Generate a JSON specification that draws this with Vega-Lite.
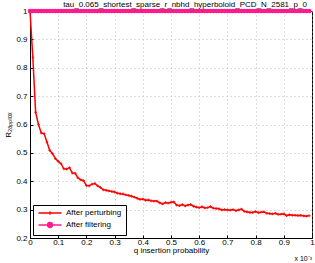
{
  "$schema": "https://vega.github.io/schema/vega-lite/v6.json",
  "width": 282,
  "height": 227,
  "autosize": "none",
  "padding": {"left": 30, "top": 11, "right": 3, "bottom": 25},
  "background": "white",
  "config": {
    "font": "Liberation Sans",
    "view": {"stroke": "black", "strokeWidth": 1},
    "axis": {
      "labelFont": "Liberation Sans", "labelFontSize": 8, "labelColor": "black", "labelOverlap": false, "labelBound": false,
      "titleFont": "Liberation Sans", "titleFontSize": 8, "titleFontWeight": "normal", "titleColor": "black",
      "domainColor": "black", "tickColor": "black", "tickSize": -3,
      "gridColor": "#a8a8a8", "gridDash": [1, 3], "gridWidth": 0.8
    }
  },
  "title": {
    "text": "tau_0.065_shortest_sparse_r_nbhd_hyperboloid_PCD_N_2581_p_0",
    "fontSize": 8, "fontWeight": "normal", "font": "Liberation Sans", "color": "black",
    "offset": -2, "dx": 14
  },
  "datasets": {
    "curves": [
      {"q": 0, "r": 1.0, "s": "After perturbing"},
      {"q": 0.01, "r": 0.837, "s": "After perturbing"},
      {"q": 0.02, "r": 0.643, "s": "After perturbing"},
      {"q": 0.03, "r": 0.600, "s": "After perturbing"},
      {"q": 0.04, "r": 0.570, "s": "After perturbing"},
      {"q": 0.05, "r": 0.568, "s": "After perturbing"},
      {"q": 0.06, "r": 0.538, "s": "After perturbing"},
      {"q": 0.07, "r": 0.509, "s": "After perturbing"},
      {"q": 0.08, "r": 0.497, "s": "After perturbing"},
      {"q": 0.09, "r": 0.480, "s": "After perturbing"},
      {"q": 0.10, "r": 0.470, "s": "After perturbing"},
      {"q": 0.11, "r": 0.462, "s": "After perturbing"},
      {"q": 0.12, "r": 0.444, "s": "After perturbing"},
      {"q": 0.13, "r": 0.443, "s": "After perturbing"},
      {"q": 0.14, "r": 0.448, "s": "After perturbing"},
      {"q": 0.15, "r": 0.429, "s": "After perturbing"},
      {"q": 0.16, "r": 0.428, "s": "After perturbing"},
      {"q": 0.17, "r": 0.412, "s": "After perturbing"},
      {"q": 0.18, "r": 0.405, "s": "After perturbing"},
      {"q": 0.19, "r": 0.402, "s": "After perturbing"},
      {"q": 0.20, "r": 0.385, "s": "After perturbing"},
      {"q": 0.21, "r": 0.384, "s": "After perturbing"},
      {"q": 0.22, "r": 0.390, "s": "After perturbing"},
      {"q": 0.23, "r": 0.392, "s": "After perturbing"},
      {"q": 0.24, "r": 0.384, "s": "After perturbing"},
      {"q": 0.25, "r": 0.378, "s": "After perturbing"},
      {"q": 0.26, "r": 0.370, "s": "After perturbing"},
      {"q": 0.27, "r": 0.368, "s": "After perturbing"},
      {"q": 0.28, "r": 0.366, "s": "After perturbing"},
      {"q": 0.29, "r": 0.364, "s": "After perturbing"},
      {"q": 0.30, "r": 0.362, "s": "After perturbing"},
      {"q": 0.31, "r": 0.358, "s": "After perturbing"},
      {"q": 0.32, "r": 0.356, "s": "After perturbing"},
      {"q": 0.33, "r": 0.355, "s": "After perturbing"},
      {"q": 0.34, "r": 0.352, "s": "After perturbing"},
      {"q": 0.35, "r": 0.350, "s": "After perturbing"},
      {"q": 0.36, "r": 0.347, "s": "After perturbing"},
      {"q": 0.37, "r": 0.344, "s": "After perturbing"},
      {"q": 0.38, "r": 0.340, "s": "After perturbing"},
      {"q": 0.39, "r": 0.336, "s": "After perturbing"},
      {"q": 0.40, "r": 0.337, "s": "After perturbing"},
      {"q": 0.41, "r": 0.333, "s": "After perturbing"},
      {"q": 0.42, "r": 0.334, "s": "After perturbing"},
      {"q": 0.43, "r": 0.331, "s": "After perturbing"},
      {"q": 0.44, "r": 0.330, "s": "After perturbing"},
      {"q": 0.45, "r": 0.330, "s": "After perturbing"},
      {"q": 0.46, "r": 0.324, "s": "After perturbing"},
      {"q": 0.47, "r": 0.320, "s": "After perturbing"},
      {"q": 0.48, "r": 0.325, "s": "After perturbing"},
      {"q": 0.49, "r": 0.323, "s": "After perturbing"},
      {"q": 0.50, "r": 0.326, "s": "After perturbing"},
      {"q": 0.51, "r": 0.327, "s": "After perturbing"},
      {"q": 0.52, "r": 0.316, "s": "After perturbing"},
      {"q": 0.53, "r": 0.314, "s": "After perturbing"},
      {"q": 0.54, "r": 0.318, "s": "After perturbing"},
      {"q": 0.55, "r": 0.313, "s": "After perturbing"},
      {"q": 0.56, "r": 0.316, "s": "After perturbing"},
      {"q": 0.57, "r": 0.318, "s": "After perturbing"},
      {"q": 0.58, "r": 0.312, "s": "After perturbing"},
      {"q": 0.59, "r": 0.309, "s": "After perturbing"},
      {"q": 0.60, "r": 0.307, "s": "After perturbing"},
      {"q": 0.61, "r": 0.310, "s": "After perturbing"},
      {"q": 0.62, "r": 0.306, "s": "After perturbing"},
      {"q": 0.63, "r": 0.307, "s": "After perturbing"},
      {"q": 0.64, "r": 0.311, "s": "After perturbing"},
      {"q": 0.65, "r": 0.305, "s": "After perturbing"},
      {"q": 0.66, "r": 0.304, "s": "After perturbing"},
      {"q": 0.67, "r": 0.303, "s": "After perturbing"},
      {"q": 0.68, "r": 0.299, "s": "After perturbing"},
      {"q": 0.69, "r": 0.300, "s": "After perturbing"},
      {"q": 0.70, "r": 0.299, "s": "After perturbing"},
      {"q": 0.71, "r": 0.298, "s": "After perturbing"},
      {"q": 0.72, "r": 0.300, "s": "After perturbing"},
      {"q": 0.73, "r": 0.296, "s": "After perturbing"},
      {"q": 0.74, "r": 0.299, "s": "After perturbing"},
      {"q": 0.75, "r": 0.302, "s": "After perturbing"},
      {"q": 0.76, "r": 0.294, "s": "After perturbing"},
      {"q": 0.77, "r": 0.292, "s": "After perturbing"},
      {"q": 0.78, "r": 0.290, "s": "After perturbing"},
      {"q": 0.79, "r": 0.290, "s": "After perturbing"},
      {"q": 0.80, "r": 0.293, "s": "After perturbing"},
      {"q": 0.81, "r": 0.289, "s": "After perturbing"},
      {"q": 0.82, "r": 0.291, "s": "After perturbing"},
      {"q": 0.83, "r": 0.292, "s": "After perturbing"},
      {"q": 0.84, "r": 0.287, "s": "After perturbing"},
      {"q": 0.85, "r": 0.286, "s": "After perturbing"},
      {"q": 0.86, "r": 0.285, "s": "After perturbing"},
      {"q": 0.87, "r": 0.287, "s": "After perturbing"},
      {"q": 0.88, "r": 0.283, "s": "After perturbing"},
      {"q": 0.89, "r": 0.284, "s": "After perturbing"},
      {"q": 0.90, "r": 0.285, "s": "After perturbing"},
      {"q": 0.91, "r": 0.279, "s": "After perturbing"},
      {"q": 0.92, "r": 0.282, "s": "After perturbing"},
      {"q": 0.93, "r": 0.280, "s": "After perturbing"},
      {"q": 0.94, "r": 0.280, "s": "After perturbing"},
      {"q": 0.95, "r": 0.279, "s": "After perturbing"},
      {"q": 0.96, "r": 0.280, "s": "After perturbing"},
      {"q": 0.97, "r": 0.278, "s": "After perturbing"},
      {"q": 0.98, "r": 0.277, "s": "After perturbing"},
      {"q": 0.99, "r": 0.279, "s": "After perturbing"},
      {"q": 0, "r": 1, "s": "After filtering"},
      {"q": 0.01, "r": 1, "s": "After filtering"},
      {"q": 0.02, "r": 1, "s": "After filtering"},
      {"q": 0.03, "r": 1, "s": "After filtering"},
      {"q": 0.04, "r": 1, "s": "After filtering"},
      {"q": 0.05, "r": 1, "s": "After filtering"},
      {"q": 0.06, "r": 1, "s": "After filtering"},
      {"q": 0.07, "r": 1, "s": "After filtering"},
      {"q": 0.08, "r": 1, "s": "After filtering"},
      {"q": 0.09, "r": 1, "s": "After filtering"},
      {"q": 0.10, "r": 1, "s": "After filtering"},
      {"q": 0.11, "r": 1, "s": "After filtering"},
      {"q": 0.12, "r": 1, "s": "After filtering"},
      {"q": 0.13, "r": 1, "s": "After filtering"},
      {"q": 0.14, "r": 1, "s": "After filtering"},
      {"q": 0.15, "r": 1, "s": "After filtering"},
      {"q": 0.16, "r": 1, "s": "After filtering"},
      {"q": 0.17, "r": 1, "s": "After filtering"},
      {"q": 0.18, "r": 1, "s": "After filtering"},
      {"q": 0.19, "r": 1, "s": "After filtering"},
      {"q": 0.20, "r": 1, "s": "After filtering"},
      {"q": 0.21, "r": 1, "s": "After filtering"},
      {"q": 0.22, "r": 1, "s": "After filtering"},
      {"q": 0.23, "r": 1, "s": "After filtering"},
      {"q": 0.24, "r": 1, "s": "After filtering"},
      {"q": 0.25, "r": 1, "s": "After filtering"},
      {"q": 0.26, "r": 1, "s": "After filtering"},
      {"q": 0.27, "r": 1, "s": "After filtering"},
      {"q": 0.28, "r": 1, "s": "After filtering"},
      {"q": 0.29, "r": 1, "s": "After filtering"},
      {"q": 0.30, "r": 1, "s": "After filtering"},
      {"q": 0.31, "r": 1, "s": "After filtering"},
      {"q": 0.32, "r": 1, "s": "After filtering"},
      {"q": 0.33, "r": 1, "s": "After filtering"},
      {"q": 0.34, "r": 1, "s": "After filtering"},
      {"q": 0.35, "r": 1, "s": "After filtering"},
      {"q": 0.36, "r": 1, "s": "After filtering"},
      {"q": 0.37, "r": 1, "s": "After filtering"},
      {"q": 0.38, "r": 1, "s": "After filtering"},
      {"q": 0.39, "r": 1, "s": "After filtering"},
      {"q": 0.40, "r": 1, "s": "After filtering"},
      {"q": 0.41, "r": 1, "s": "After filtering"},
      {"q": 0.42, "r": 1, "s": "After filtering"},
      {"q": 0.43, "r": 1, "s": "After filtering"},
      {"q": 0.44, "r": 1, "s": "After filtering"},
      {"q": 0.45, "r": 1, "s": "After filtering"},
      {"q": 0.46, "r": 1, "s": "After filtering"},
      {"q": 0.47, "r": 1, "s": "After filtering"},
      {"q": 0.48, "r": 1, "s": "After filtering"},
      {"q": 0.49, "r": 1, "s": "After filtering"},
      {"q": 0.50, "r": 1, "s": "After filtering"},
      {"q": 0.51, "r": 1, "s": "After filtering"},
      {"q": 0.52, "r": 1, "s": "After filtering"},
      {"q": 0.53, "r": 1, "s": "After filtering"},
      {"q": 0.54, "r": 1, "s": "After filtering"},
      {"q": 0.55, "r": 1, "s": "After filtering"},
      {"q": 0.56, "r": 1, "s": "After filtering"},
      {"q": 0.57, "r": 1, "s": "After filtering"},
      {"q": 0.58, "r": 1, "s": "After filtering"},
      {"q": 0.59, "r": 1, "s": "After filtering"},
      {"q": 0.60, "r": 1, "s": "After filtering"},
      {"q": 0.61, "r": 1, "s": "After filtering"},
      {"q": 0.62, "r": 1, "s": "After filtering"},
      {"q": 0.63, "r": 1, "s": "After filtering"},
      {"q": 0.64, "r": 1, "s": "After filtering"},
      {"q": 0.65, "r": 1, "s": "After filtering"},
      {"q": 0.66, "r": 1, "s": "After filtering"},
      {"q": 0.67, "r": 1, "s": "After filtering"},
      {"q": 0.68, "r": 1, "s": "After filtering"},
      {"q": 0.69, "r": 1, "s": "After filtering"},
      {"q": 0.70, "r": 1, "s": "After filtering"},
      {"q": 0.71, "r": 1, "s": "After filtering"},
      {"q": 0.72, "r": 1, "s": "After filtering"},
      {"q": 0.73, "r": 1, "s": "After filtering"},
      {"q": 0.74, "r": 1, "s": "After filtering"},
      {"q": 0.75, "r": 1, "s": "After filtering"},
      {"q": 0.76, "r": 1, "s": "After filtering"},
      {"q": 0.77, "r": 1, "s": "After filtering"},
      {"q": 0.78, "r": 1, "s": "After filtering"},
      {"q": 0.79, "r": 1, "s": "After filtering"},
      {"q": 0.80, "r": 1, "s": "After filtering"},
      {"q": 0.81, "r": 1, "s": "After filtering"},
      {"q": 0.82, "r": 1, "s": "After filtering"},
      {"q": 0.83, "r": 1, "s": "After filtering"},
      {"q": 0.84, "r": 1, "s": "After filtering"},
      {"q": 0.85, "r": 1, "s": "After filtering"},
      {"q": 0.86, "r": 1, "s": "After filtering"},
      {"q": 0.87, "r": 1, "s": "After filtering"},
      {"q": 0.88, "r": 1, "s": "After filtering"},
      {"q": 0.89, "r": 1, "s": "After filtering"},
      {"q": 0.90, "r": 1, "s": "After filtering"},
      {"q": 0.91, "r": 1, "s": "After filtering"},
      {"q": 0.92, "r": 1, "s": "After filtering"},
      {"q": 0.93, "r": 1, "s": "After filtering"},
      {"q": 0.94, "r": 1, "s": "After filtering"},
      {"q": 0.95, "r": 1, "s": "After filtering"},
      {"q": 0.96, "r": 1, "s": "After filtering"},
      {"q": 0.97, "r": 1, "s": "After filtering"},
      {"q": 0.98, "r": 1, "s": "After filtering"},
      {"q": 0.99, "r": 1, "s": "After filtering"}
    ],
    "note": [{"q": 1, "r": 0.2, "t": "x 10⁻³"}]
  },
  "encoding": {
    "x": {"field": "q", "type": "quantitative",
          "scale": {"domain": [0, 1], "nice": false},
          "axis": {"title": "q insertion probability", "values": [0,0.1,0.2,0.3,0.4,0.5,0.6,0.7,0.8,0.9,1], "format": ".1~f", "labelPadding": 3, "titlePadding": 0, "labelFlush": false, "labelOverlap": false, "labelSeparation": 0}},
    "y": {"field": "r", "type": "quantitative",
          "scale": {"domain": [0.2, 1], "nice": false, "zero": false},
          "axis": {"title": "R₂ₐₚₚᵣₒₓ", "values": [0.2,0.3,0.4,0.5,0.6,0.7,0.8,0.9,1], "format": ".1~f", "labelPadding": 6, "titlePadding": 3, "labelFlush": false, "labelOverlap": false, "labelSeparation": 0}}
  },
  "layer": [
    {
      "data": {"name": "curves"},
      "mark": {"type": "line", "strokeWidth": 1.5, "clip": false},
      "encoding": {
        "color": {"field": "s", "type": "nominal",
                  "scale": {"domain": ["After perturbing", "After filtering"], "range": ["#ff0000", "#ff1a8c"]},
                  "legend": {
                    "title": null, "orient": "bottom-left", "offset": 3,
                    "fillColor": "white", "strokeColor": "black", "padding": 4,
                    "labelFontSize": 8, "labelFont": "Liberation Sans", "labelColor": "black",
                    "symbolSize": 25, "symbolStrokeWidth": 1.3, "symbolOffset": 9, "labelOffset": 12, "rowPadding": 1,
                    "symbolType": "circle",
                    "encode": {"symbols": {"update": {
                      "shape": {"signal": "datum.value === 'After perturbing' ? 'M-4.6,0H4.6M0,-0.7V0.7M-0.7,0H0.7' : 'M-4.6,0H-1A1,1 0 1,1 1,0A1,1 0 1,1 -1,0M1,0H4.6'"},
                      "fill": {"signal": "datum.value === 'After perturbing' ? 'transparent' : '#ff1a8c'"},
                      "fillOpacity": {"value": 1}
                    }}}
                  }}
      }
    },
    {
      "data": {"name": "curves"},
      "transform": [{"filter": "datum.s === 'After perturbing'"}],
      "mark": {"type": "point", "shape": "M-1,0H1M0,-1V1", "size": 8, "strokeWidth": 1.2, "color": "#ff0000", "clip": false}
    },
    {
      "data": {"name": "curves"},
      "transform": [{"filter": "datum.s === 'After filtering'"}],
      "mark": {"type": "point", "shape": "circle", "size": 22, "filled": true, "opacity": 1, "color": "#ff1a8c", "clip": false}
    },
    {
      "data": {"name": "note"},
      "mark": {"type": "text", "align": "right", "baseline": "middle", "dy": 21, "fontSize": 7, "font": "Liberation Sans", "color": "black"},
      "encoding": {"text": {"field": "t"}}
    }
  ]
}
